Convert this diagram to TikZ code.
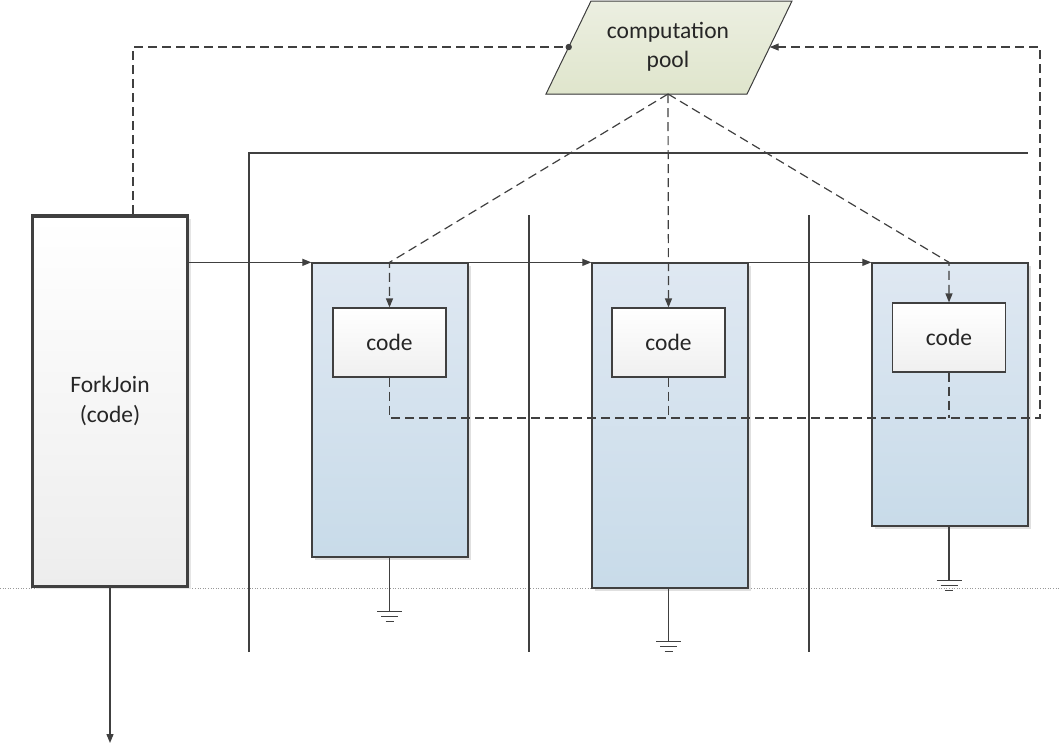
\documentclass[tikz,border=0pt]{standalone}
\usepackage{fontspec}
\setmainfont{Carlito}
\usetikzlibrary{arrows.meta,shadows,calc}
\definecolor{ink}{HTML}{404040}
\definecolor{boxtop}{HTML}{DFE8F2}
\definecolor{boxbot}{HTML}{C8DBE9}
\definecolor{pooltop}{HTML}{ECEFE1}
\definecolor{poolbot}{HTML}{DFE5CC}
\tikzset{
  label text/.style={font=\fontsize{23.5}{29.5}\selectfont, text=black!85, align=center},
  taskbox/.style={draw=ink, line width=1.3pt, top color=boxtop, bottom color=boxbot,
    inner sep=0pt, drop shadow={shadow xshift=3pt, shadow yshift=-3pt, fill=black!12, opacity=1}},
  codebox/.style={draw=ink, line width=1.2pt, top color=white, bottom color=black!6,
    inner sep=0pt, minimum width=113, minimum height=69, label text},
  forkbox/.style={draw=ink, line width=3.5pt, top color=white, bottom color=black!7,
    inner sep=0pt, label text,
    drop shadow={shadow xshift=3pt, shadow yshift=-3pt, fill=black!10, opacity=1}},
  flow/.style={draw=ink, line width=1.2pt, -{Triangle[length=9pt,width=7pt]}},
  dashflow/.style={draw=ink, line width=1.2pt, dash pattern=on 9pt off 5pt},
  bar/.style={draw=ink, line width=2.5pt},
  gndline/.style={draw=ink, line width=1.2pt},
  ground/.pic={\draw[gndline] (-12.5,0) -- (12.5,0) (-8.5,5) -- (8.5,5) (-4,10) -- (4,10);}
}
\begin{document}
\begin{tikzpicture}[x=1pt,y=-1pt]
\useasboundingbox (0,0) rectangle (1059,745);

% page guide line
\draw[black!40, line width=0.6pt, dotted] (0,588) -- (1059,588);

% thread separators
\draw[bar] (249,652) -- (249,153) -- (1028,153);
\draw[bar] (529,215) -- (529,652);
\draw[bar] (809,215) -- (809,652);

% fork/join caller
\node[forkbox, minimum width=155, minimum height=370.5] (fj) at (110,401) {ForkJoin\\(code)};

% worker tasks
\node[taskbox, minimum width=156, minimum height=294] (box1) at (390,410) {};
\node[taskbox, minimum width=156, minimum height=325] (box2) at (670,425.5) {};
\node[taskbox, minimum width=156, minimum height=263] (box3) at (950,394.5) {};

\node[codebox] (code1) at (389.5,342.5) {code};
\node[codebox] (code2) at (668.5,342.5) {code};
\node[codebox] (code3) at (949,337.5) {code};

% computation pool
\filldraw[draw=ink, line width=1pt, top color=pooltop, bottom color=poolbot]
  (591,1) coordinate (ptl) -- (792,1) coordinate (ptr) -- (747,94) coordinate (pbr)
  -- (546,94) coordinate (pbl) -- cycle;
\node[label text] (pool) at (668,47) {computation\\pool};
\coordinate (pin) at ($(ptl)!0.495!(pbl)$);
\coordinate (pret) at ($(ptr)!0.495!(pbr)$);
\coordinate (papex) at (668,94);
\coordinate (rbus) at (1040,418);
\coordinate (out) at (110,743);

% control flow
\draw[flow] (fj.east |- box1.north) -- (box1.north west);
\draw[flow] (box1.north east) -- (box2.north west);
\draw[flow] (box2.north east) -- (box3.north west);
\draw[flow] (fj.south) -- (out);

% submission to the pool
\draw[dashflow] ([xshift=23pt]fj.north) |- (pin);
\fill[ink] (pin) circle (3.2pt);

% pool dispatch
\draw[dashflow, -{Triangle[length=9pt,width=7pt]}] (papex) -- (code1.north |- box1.north) -- (code1.north);
\draw[dashflow, -{Triangle[length=9pt,width=7pt]}] (papex) -- (code2.north);
\draw[dashflow, -{Triangle[length=9pt,width=7pt]}] (papex) -- (code3.north |- box3.north) -- (code3.north);

% results back to the pool
\draw[dashflow, -{Triangle[length=9pt,width=7pt]}] (code1.south) |- (rbus) -- (rbus |- pret) -- (pret);
\draw[dashflow] (code2.south) -- (code2.south |- rbus);
\draw[dashflow] (code3.south) -- (code3.south |- rbus);

% grounds
\draw[gndline] (box1.south -| code1.south) -- ++(0,54) pic (g1) {ground};
\draw[gndline] (box2.south -| code2.south) -- ++(0,53) pic (g2) {ground};
\draw[gndline] (box3.south -| code3.south) -- ++(0,54) pic (g3) {ground};
\end{tikzpicture}
\end{document}
